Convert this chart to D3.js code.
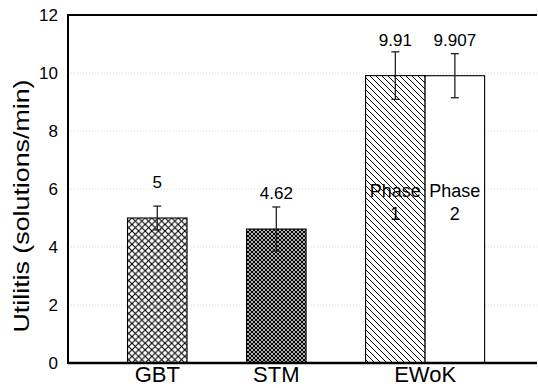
<!DOCTYPE html>
<html><head><meta charset="utf-8">
<script src="https://cdn.jsdelivr.net/npm/d3@7/dist/d3.min.js"></script>
<style>body{margin:0;background:#fff;} svg{display:block;font-family:Arial,"Liberation Sans",sans-serif;}</style>
</head><body><svg id="c" width="538" height="388"></svg>
<script>
const categories = ["GBT", "STM", "EWoK"];
const barGroups = ["GBT", "STM", "EWoK", "EWoK"];
const barNames = ["GBT", "STM", "Phase\n1", "Phase\n2"];
const values = [5, 4.62, 9.91, 9.907];
const valueLabels = ["5", "4.62", "9.91", "9.907"];
const errors = [0.41, 0.76, 0.82, 0.76];
const yTicks = [0, 2, 4, 6, 8, 10, 12];
const yTitle = "Utilitis (solutions/min)";

const svg = d3.select("#c");
const L = 68, R = 537, T = 15, B = 363;
const defs = svg.append("defs");
function hatch(id, size, dirs, sw) {
  const p = defs.append("pattern").attr("id", id).attr("patternUnits", "userSpaceOnUse")
    .attr("width", size).attr("height", size);
  p.append("rect").attr("width", size).attr("height", size).attr("fill", "#fff");
  dirs.forEach(d => {
    const path = d === "/" ? `M0,${size} L${size},0 M-1,1 L1,-1 M${size-1},${size+1} L${size+1},${size-1}`
                           : `M0,0 L${size},${size} M-1,${size-1} L1,${size+1} M${size-1},-1 L${size+1},1`;
    p.append("path").attr("d", path).attr("stroke", "#000").attr("stroke-width", sw).attr("fill", "none");
  });
}
hatch("pGBT", 6.6, ["/", "\\"], 1.1);
hatch("pSTM", 4, ["/", "\\"], 1.2);
hatch("pP1", 6, ["\\"], 1);
const fills = ["url(#pGBT)", "url(#pSTM)", "url(#pP1)", "#fff"];

// slot layout: one gap slot before each group, one slot per bar
const slots = [];
let s = 0, prev = null;
barGroups.forEach(g => { if (g !== prev) { s += 1; prev = g; } slots.push(s); s += 1; });
const x = d3.scaleLinear().domain([0, s + 0.88]).range([L, R]);
const y = d3.scaleLinear().domain([0, 12]).range([B, T]);
const bw = x(1) - x(0);

// grid
svg.append("g").selectAll("line").data(yTicks.filter(t => t > 0 && t < 12)).join("line")
  .attr("x1", L).attr("x2", R).attr("y1", d => y(d)).attr("y2", d => y(d))
  .attr("stroke", "#d0d0d0").attr("stroke-width", 0.8).attr("stroke-dasharray", "1,2");

// bars
svg.append("g").selectAll("rect").data(values).join("rect")
  .attr("x", (d, i) => x(slots[i])).attr("width", bw)
  .attr("y", d => y(d)).attr("height", d => y(0) - y(d))
  .attr("fill", (d, i) => fills[i]).attr("stroke", "#000").attr("stroke-width", 1.1);

// error bars
const eg = svg.append("g").attr("stroke", "#222").attr("stroke-width", 1.3);
values.forEach((v, i) => {
  const cx = x(slots[i] + 0.5);
  eg.append("line").attr("x1", cx).attr("x2", cx).attr("y1", y(v + errors[i])).attr("y2", y(v - errors[i]));
  [v + errors[i], v - errors[i]].forEach(e =>
    eg.append("line").attr("x1", cx - 4).attr("x2", cx + 4).attr("y1", y(e)).attr("y2", y(e)));
});

// value labels
svg.append("g").selectAll("text").data(valueLabels).join("text")
  .attr("x", (d, i) => x(slots[i] + 0.5)).attr("y", (d, i) => y(values[i]) - 30)
  .attr("text-anchor", "middle").attr("font-size", 17).text(d => d);

// in-bar names for EWoK phases
barNames.forEach((n, i) => {
  if (!n.includes("\n")) return;
  const lines = n.split("\n");
  const t = svg.append("text").attr("text-anchor", "middle").attr("font-size", 18)
    .attr("x", x(slots[i] + 0.5)).attr("y", y(6) + 8);
  lines.forEach((ln, k) => t.append("tspan").attr("x", x(slots[i] + 0.5)).attr("dy", k ? 23 : 0).text(ln));
});

// axes frame
svg.append("line").attr("x1", L).attr("x2", R).attr("y1", T).attr("y2", T).attr("stroke", "#000").attr("stroke-width", 2);
svg.append("line").attr("x1", L).attr("x2", R).attr("y1", B).attr("y2", B).attr("stroke", "#000").attr("stroke-width", 2.5);
svg.append("line").attr("x1", L).attr("x2", L).attr("y1", T - 1).attr("y2", B + 1).attr("stroke", "#000").attr("stroke-width", 2);

const yAxis = d3.axisLeft(y).tickValues(yTicks).tickSize(0).tickPadding(10).tickFormat(d3.format("d"));
const ya = svg.append("g").attr("transform", `translate(${L},0)`).call(yAxis);
ya.select(".domain").remove();
ya.selectAll("text").attr("font-size", 17).attr("fill", "#000").attr("font-family", "Arial,'Liberation Sans',sans-serif");

// category labels
categories.forEach(c => {
  const idx = barGroups.map((g, i) => g === c ? i : -1).filter(i => i >= 0);
  const cx = (x(slots[idx[0]]) + x(slots[idx[idx.length - 1]] + 1)) / 2;
  svg.append("text").attr("x", cx).attr("y", 382).attr("text-anchor", "middle")
    .attr("font-size", 22).text(c);
});

svg.append("text").attr("transform", `translate(29,206) rotate(-90)`)
  .attr("text-anchor", "middle").attr("font-size", 22)
  .attr("textLength", 253).attr("lengthAdjust", "spacingAndGlyphs").text(yTitle);
</script></body></html>
